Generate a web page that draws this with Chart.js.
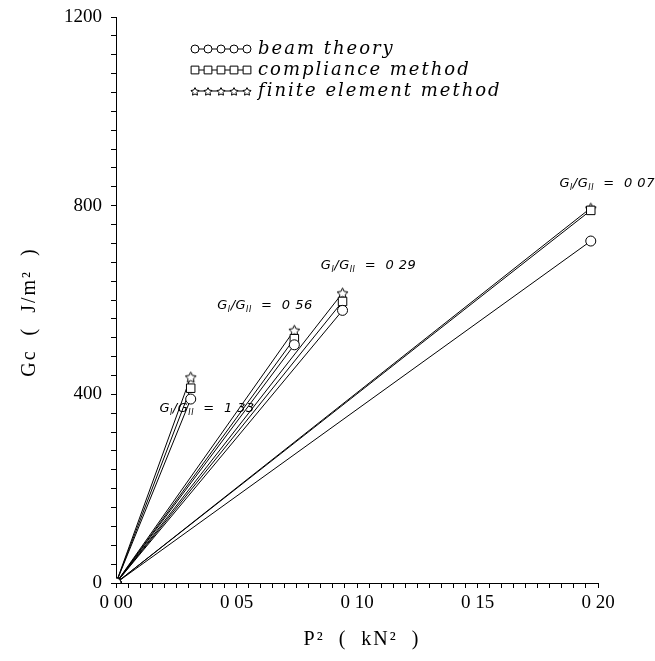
<!DOCTYPE html>
<html>
<head>
<meta charset="utf-8">
<script src="https://cdn.jsdelivr.net/npm/chart.js@4/dist/chart.umd.min.js"></script>
<style>
  body { margin: 0; background: #fff; }
</style>
</head>
<body>
<canvas id="GcChart" width="655" height="661"></canvas>
<script>
// P^2 (kN^2) at the end of each loading line, one per mixed-mode ratio
const groupP2 = [0.031, 0.074, 0.094, 0.197];
const ratioLabels = ["1 33", "0 56", "0 29", "0 07"];

// Gc (J/m^2) per method
const beamTheory = [390, 505, 578, 725];
const complianceMethod = [413, 518, 597, 790];
const finiteElement = [437, 536, 615, 795];

const methodNames = ["beam theory", "compliance method", "finite element method"];

const xTickLabels = ["0 00", "0 05", "0 10", "0 15", "0 20"];
const yTickLabels = ["0", "400", "800", "1200"];

// where the ratio labels sit, in data units
const ratioLabelPos = [
  { x: 0.018, y: 362 },
  { x: 0.042, y: 581 },
  { x: 0.085, y: 666 },
  { x: 0.184, y: 840 },
];

function makeStar(size) {
  const c = document.createElement("canvas");
  c.width = size;
  c.height = size;
  const g = c.getContext("2d");
  g.beginPath();
  for (let i = 0; i < 10; i++) {
    const r = i % 2 === 0 ? size / 2 - 0.8 : size / 4.6;
    const a = -Math.PI / 2 + (i * Math.PI) / 5;
    g.lineTo(size / 2 + r * Math.cos(a), size / 2 + 0.8 + r * Math.sin(a));
  }
  g.closePath();
  g.fillStyle = "#fff";
  g.fill();
  g.strokeStyle = "#000";
  g.lineWidth = 1;
  g.stroke();
  return c;
}

const starBig = makeStar(13);
const starSmall = makeStar(10);

// each method: one straight line from the origin to every end point
function rays(values) {
  let out = [];
  for (let i = 0; i < values.length; i++) {
    out.push({ x: 0, y: 0 });
    out.push({ x: groupP2[i], y: values[i] });
    out.push({ x: groupP2[i], y: null });
  }
  return out;
}

function dataset(label, values, style, radius) {
  return {
    label: label,
    data: rays(values),
    borderColor: "#000",
    borderWidth: 1,
    backgroundColor: "#fff",
    pointBorderColor: "#000",
    pointBackgroundColor: "#fff",
    pointBorderWidth: 1,
    pointStyle: style,
    pointRadius: radius,
    tension: 0,
    spanGaps: false,
  };
}

const serif = "'Liberation Serif', 'DejaVu Serif', serif";

const overlay = {
  id: "overlay",
  afterDraw(chart) {
    const ctx = chart.ctx;
    const xs = chart.scales.x;
    const ys = chart.scales.y;
    ctx.save();
    ctx.fillStyle = "#000";
    ctx.strokeStyle = "#000";
    ctx.lineWidth = 1;

    // axis titles
    ctx.font = "20px " + serif;
    ctx.letterSpacing = "2px";
    ctx.textAlign = "center";
    ctx.textBaseline = "middle";
    ctx.fillText("P²  (  kN²  )", 362, 640);
    ctx.save();
    ctx.translate(30, 312);
    ctx.rotate(-Math.PI / 2);
    ctx.fillText("Gc  (  J/m²  )", 0, 0);
    ctx.restore();

    // legend
    const styles = ["circle", "rect", starSmall];
    const radii = [4, 5.5, 5];
    const legendY = [49, 70, 91];
    for (let i = 0; i < 3; i++) {
      const y = legendY[i];
      ctx.beginPath();
      ctx.moveTo(191, y);
      ctx.lineTo(251, y);
      ctx.stroke();
      for (let k = 0; k < 5; k++) {
        ctx.fillStyle = "#fff";
        Chart.helpers.drawPoint(ctx, { pointStyle: styles[i], radius: radii[i], rotation: 0, borderWidth: 1 }, 195 + k * 13, y);
      }
      ctx.fillStyle = "#000";
      ctx.font = "italic 18px 'DejaVu Serif', serif";
      ctx.letterSpacing = "2px";
      ctx.textAlign = "left";
      ctx.textBaseline = "middle";
      ctx.fillText(methodNames[i], 258, y);
    }

    // ratio labels G_I/G_II = ...
    ctx.letterSpacing = "0.5px";
    ctx.textBaseline = "alphabetic";
    for (let i = 0; i < ratioLabels.length; i++) {
      let x = xs.getPixelForValue(ratioLabelPos[i].x);
      const y = ys.getPixelForValue(ratioLabelPos[i].y);
      const parts = [
        ["G", 0, 13],
        ["I", 3, 8],
        ["/G", 0, 13],
        ["II", 3, 8],
        ["  =  " + ratioLabels[i], 0, 13],
      ];
      for (const p of parts) {
        ctx.font = "italic " + p[2] + "px 'DejaVu Sans', sans-serif";
        ctx.fillText(p[0], x, y + p[1]);
        x += ctx.measureText(p[0]).width;
      }
    }
    ctx.restore();
  },
};

new Chart(document.getElementById("GcChart"), {
  type: "line",
  data: {
    datasets: [
      dataset(methodNames[0], beamTheory, "circle", 5),
      dataset(methodNames[1], complianceMethod, "rect", 6),
      dataset(methodNames[2], finiteElement, starBig, 6),
    ],
  },
  options: {
    responsive: false,
    animation: false,
    layout: { padding: { left: 0, right: 57, top: 17, bottom: 0 } },
    plugins: {
      legend: { display: false },
      tooltip: { enabled: false },
    },
    scales: {
      x: {
        type: "linear",
        min: 0,
        max: 0.2,
        afterFit(s) {
          s.height = 78;
        },
        border: { display: true, color: "#000", width: 1 },
        grid: { drawOnChartArea: false, drawTicks: true, tickLength: 5, color: "#000" },
        ticks: {
          stepSize: 0.005,
          autoSkip: false,
          maxRotation: 0,
          color: "#000",
          padding: 4,
          font: { family: serif, size: 19 },
          callback: function (v) {
            const k = Math.round(v * 1000);
            return k % 50 === 0 ? xTickLabels[k / 50] : "";
          },
        },
        title: { display: false },
      },
      y: {
        min: 0,
        max: 1200,
        afterFit(s) {
          s.width = 116;
          s.paddingTop = 0;
          s.paddingBottom = 0;
        },
        border: { display: true, color: "#000", width: 1 },
        grid: { drawOnChartArea: false, drawTicks: true, tickLength: 5, color: "#000" },
        ticks: {
          stepSize: 40,
          autoSkip: false,
          color: "#000",
          padding: 9,
          font: { family: serif, size: 19 },
          callback: function (v) {
            const k = Math.round(v);
            return k % 400 === 0 ? yTickLabels[k / 400] : "";
          },
        },
        title: { display: false },
      },
    },
  },
  plugins: [overlay],
});
</script>
</body>
</html>
